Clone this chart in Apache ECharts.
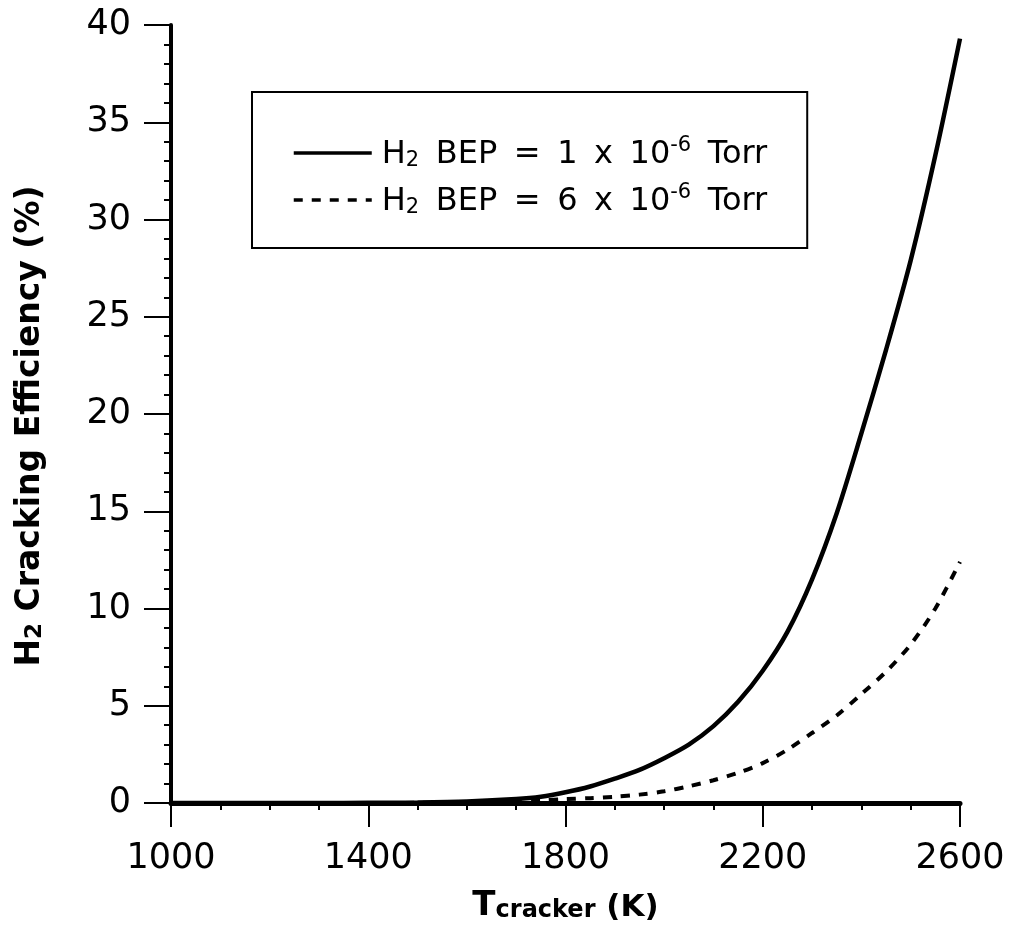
<!DOCTYPE html>
<html>
<head>
<meta charset="utf-8">
<script src="https://cdn.jsdelivr.net/npm/echarts@6/dist/echarts.min.js"></script>
<style>
html,body{margin:0;padding:0;background:#fff;}
#chart{width:1010px;height:934px;}
</style>
</head>
<body>
<div id="chart"></div>
<script>
// Temperature (K)
const temps = [1000,1100,1200,1300,1400,1500,1600,1700,1750,1800,1850,1900,1950,2000,2050,2100,2150,2200,2250,2300,2350,2400,2450,2500,2550,2600];
// H2 BEP = 1e-6 Torr (solid)
const effLow = [0,0,0,0,0.01,0.03,0.08,0.2,0.32,0.55,0.85,1.25,1.7,2.3,3.0,3.95,5.2,6.8,8.8,11.5,14.9,19.0,23.3,27.9,33.3,39.3];
// H2 BEP = 6e-6 Torr (dashed)
const effHigh = [0,0,0,0,0,0.01,0.03,0.08,0.13,0.2,0.25,0.32,0.43,0.6,0.86,1.17,1.55,2.05,2.74,3.6,4.5,5.6,6.75,8.15,10.0,12.4];

const seriesNames = ['H2 BEP = 1 x 10-6 Torr', 'H2 BEP = 6 x 10-6 Torr'];
const legendCoef = ['1', '6'];
const xTickLabels = ['1000','1400','1800','2200','2600'];
const yTickLabels = ['0','5','10','15','20','25','30','35','40'];

const chart = echarts.init(document.getElementById('chart'));
const FONT = 'DejaVu Sans';
const SP = ' \u2009';

chart.setOption({
  backgroundColor: '#fff',
  animation: false,
  grid: { left: 171, right: 50, top: 25, bottom: 131 },
  legend: {
    left: 252, top: 92,
    orient: 'vertical',
    data: seriesNames,
    itemWidth: 78, itemHeight: 14,
    itemGap: 11,
    padding: [43, 40, 30, 40],
    borderColor: '#000', borderWidth: 2,
    itemStyle: { opacity: 0 },
    lineStyle: { width: 3.5, color: '#000' },
    formatter: function (name) {
      const c = legendCoef[seriesNames.indexOf(name)];
      return '{m|H}{sub|2}{m|' + SP + 'BEP' + SP + '=' + SP + c + SP + 'x' + SP + '10}{sup|-6}{m|' + SP + 'Torr}';
    },
    textStyle: {
      fontFamily: FONT, color: '#000', padding: [0, 0, 0, 5],
      rich: {
        m: { fontFamily: FONT, fontSize: 32, color: '#000', lineHeight: 36, verticalAlign: 'bottom' },
        sub: { fontFamily: FONT, fontSize: 21, color: '#000', lineHeight: 22, verticalAlign: 'bottom' },
        sup: { fontFamily: FONT, fontSize: 21, color: '#000', lineHeight: 26, verticalAlign: 'top' }
      }
    }
  },
  xAxis: {
    type: 'value', min: 1000, max: 2600, interval: 400,
    name: '{t|T}{s|cracker}{k| (K)}',
    nameLocation: 'middle', nameGap: 80,
    nameTextStyle: {
      rich: {
        t: { fontFamily: FONT, fontWeight: 'bold', fontSize: 34, color: '#000', lineHeight: 40, verticalAlign: 'bottom' },
        s: { fontFamily: FONT, fontWeight: 'bold', fontSize: 24, color: '#000', lineHeight: 30, verticalAlign: 'bottom' },
        k: { fontFamily: FONT, fontWeight: 'bold', fontSize: 31, color: '#000', lineHeight: 40, verticalAlign: 'bottom' }
      }
    },
    axisLine: { show: true, onZero: false, lineStyle: { color: '#000', width: 5 } },
    axisTick: { show: true, length: 24, lineStyle: { color: '#000', width: 2 } },
    minorTick: { show: true, splitNumber: 4, length: 7, lineStyle: { color: '#000', width: 2 } },
    splitLine: { show: false },
    axisLabel: {
      margin: 38, fontFamily: FONT, fontSize: 35, color: '#000',
      formatter: function (v) { const s = String(v); return xTickLabels.indexOf(s) >= 0 ? s : ''; }
    }
  },
  yAxis: {
    type: 'value', min: 0, max: 40, interval: 5,
    name: '{b|H}{bs|2}{b| Cracking Efficiency (%)}',
    nameLocation: 'middle', nameGap: 124,
    nameTextStyle: {
      padding: [0, 24, 0, 0],
      rich: {
        b: { fontFamily: FONT, fontWeight: 'bold', fontSize: 33, color: '#000', lineHeight: 38, verticalAlign: 'bottom' },
        bs: { fontFamily: FONT, fontWeight: 'bold', fontSize: 23, color: '#000', lineHeight: 26, verticalAlign: 'bottom' }
      }
    },
    axisLine: { show: true, lineStyle: { color: '#000', width: 4 } },
    axisTick: { show: true, length: 27, lineStyle: { color: '#000', width: 2 } },
    minorTick: { show: true, splitNumber: 5, length: 7, lineStyle: { color: '#000', width: 2 } },
    splitLine: { show: false },
    axisLabel: {
      margin: 40, fontFamily: FONT, fontSize: 35, color: '#000',
      formatter: function (v) { const s = String(v); return yTickLabels.indexOf(s) >= 0 ? s : ''; }
    }
  },
  series: [
    {
      name: seriesNames[0], type: 'line', smooth: 0.3, symbol: 'none',
      data: temps.map((t, i) => [t, effLow[i]]),
      lineStyle: { color: '#000', width: 4.5 },
      itemStyle: { color: '#000' }
    },
    {
      name: seriesNames[1], type: 'line', smooth: 0.3, symbol: 'none',
      data: temps.map((t, i) => [t, effHigh[i]]),
      lineStyle: { color: '#000', width: 4, type: [9, 9] },
      itemStyle: { color: '#000' }
    }
  ]
});
</script>
</body>
</html>
